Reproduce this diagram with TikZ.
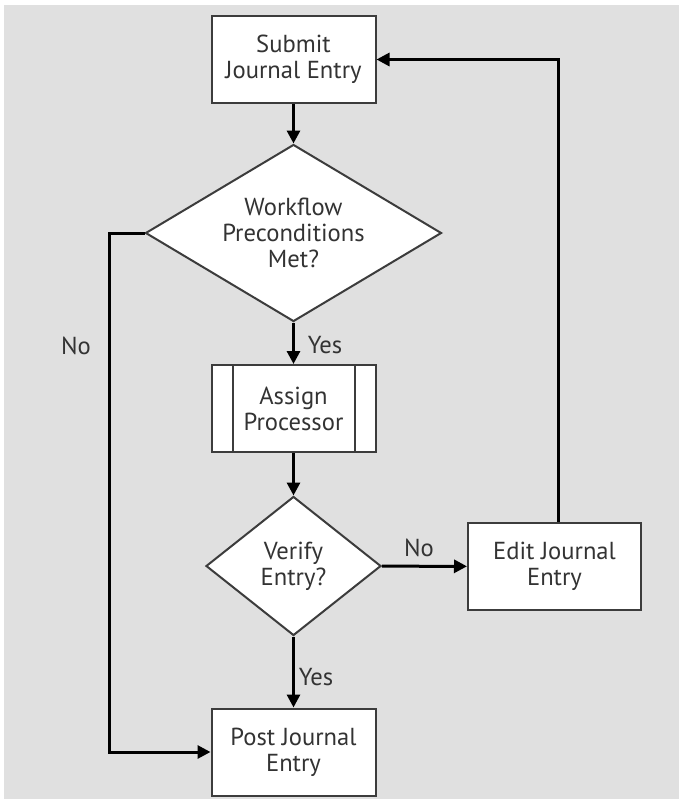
\documentclass[tikz,border=0pt]{standalone}
\usepackage{fontspec}
\setsansfont{PT Sans}
\usetikzlibrary{shapes.geometric, arrows.meta}
\definecolor{bggray}{HTML}{E0E0E0}
\definecolor{edgegray}{HTML}{3C3C3C}
\definecolor{txtgray}{HTML}{333333}

\begin{document}
\begin{tikzpicture}[font=\fontsize{12.3}{13}\selectfont\sffamily, x=0.5pt, y=-0.5pt,
    proc/.style={draw=edgegray, line width=1pt, fill=white, text=txtgray, align=center,
      minimum width=82pt, minimum height=43.5pt, inner sep=0pt},
    decide/.style={diamond, draw=edgegray, line width=1pt, fill=white, text=txtgray,
      align=center, inner sep=0pt},
    flow/.style={-{Triangle[length=6.5pt, width=6.5pt]}, line width=1.5pt},
    lbl/.style={text=txtgray}]

    % Background
    \fill[white] (0,0) rectangle (679,799);
    \fill[bggray] (4,5) rectangle (679,799);

    % Steps and decisions
    \node[proc] (submit) at (293.5,59.5) {Submit\\Journal Entry};
    \node[decide, shape aspect=1.67, minimum width=148pt, minimum height=88.5pt] (precond) at (293.5,233) {Workflow\\Preconditions\\Met?};
    \node[proc] (assign) at (293.5,408.5) {Assign\\Processor};
    \node[decide, shape aspect=1.26, minimum width=87.5pt, minimum height=69.5pt] (verify) at (293.5,566) {Verify\\Entry?};
    \node[proc, minimum width=86.5pt] (edit) at (554.5,566.5) {Edit Journal\\Entry};
    \node[proc] (post) at (293.5,752) {Post Journal\\Entry};

    % Subroutine bars
    \draw[edgegray, line width=1pt] ([xshift=11pt]assign.north west) -- ([xshift=11pt]assign.south west);
    \draw[edgegray, line width=1pt] ([xshift=-11pt]assign.north east) -- ([xshift=-11pt]assign.south east);

    % Connectors
    \draw[flow] (submit) -- (precond);
    \draw[flow] (precond) -- (assign);
    \draw[flow] (assign) -- (verify);
    \draw[flow] (verify) -- (edit);
    \draw[flow] (verify) -- (post);
    \draw[flow] (precond.west) -- ++(-35,0) |- (post.west);
    \draw[flow] ([xshift=1.75pt]edit.north) |- (submit.east);

    % Branch labels
    \node[lbl] (nopre) at (76,346) {No};
    \node[lbl] (yespre) at (325,345) {Yes};
    \node[lbl] (noverify) at (419,548) {No};
    \node[lbl] (yesverify) at (316,677) {Yes};

\end{tikzpicture}
\end{document}
